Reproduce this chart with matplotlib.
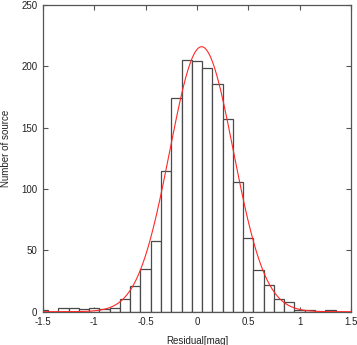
import numpy as np
import matplotlib
matplotlib.use("Agg")
from matplotlib import pyplot as plt

# histogram of residuals (bin centres and counts)
bin_centers = [-1.5, -1.4, -1.3, -1.2, -1.1, -1.0, -0.9, -0.8, -0.7, -0.6,
               -0.5, -0.4, -0.3, -0.2, -0.1, 0.0, 0.1, 0.2, 0.3, 0.4,
               0.5, 0.6, 0.7, 0.8, 0.9, 1.0, 1.1, 1.2, 1.3, 1.4]
counts = [1, 0, 3, 3, 2, 3, 2, 3, 10, 21,
          35, 58, 115, 174, 205, 204, 199, 186, 157, 106,
          60, 34, 22, 10, 8, 1, 1, 0, 1, 0]
bin_width = 0.1

# gaussian fit parameters
fit_amp = 216.0
fit_mu = 0.045
fit_sigma = 0.31

x_ticks = [-1.5, -1, -0.5, 0, 0.5, 1, 1.5]
x_ticklabels = ["-1.5", "-1", "-0.5", "0", "0.5", "1", "1.5"]
y_ticks = [0, 50, 100, 150, 200, 250]

plt.rcParams['font.family'] = ['Liberation Sans', 'DejaVu Sans']

fig = plt.figure(figsize=(3.57, 3.45), dpi=100)
ax = fig.add_axes([0.1204, 0.0965, 0.8626, 0.889])

ax.bar(bin_centers, counts, width=bin_width, facecolor='white',
       edgecolor='#4a4a4a', linewidth=0.9, zorder=2)

xs = np.linspace(-1.5, 1.5, 400)
ax.plot(xs, fit_amp * np.exp(-(xs - fit_mu) ** 2 / (2 * fit_sigma ** 2)),
        color='#ff2828', linewidth=0.8, zorder=3)

ax.set_xlim(-1.5, 1.5)
ax.set_ylim(0, 250)
ax.set_xticks(x_ticks)
ax.set_xticklabels(x_ticklabels)
ax.set_yticks(y_ticks)
ax.tick_params(direction='in', top=True, right=True, length=3.5,
               width=0.8, color='#555555', labelsize=7, labelcolor='#222222', pad=4)

for s in ax.spines.values():
    s.set_color('#555555')
    s.set_linewidth(0.9)

ax.set_xlabel("Residual[mag]", fontsize=7, color='#222222', labelpad=6)
ax.set_ylabel("Number of source", fontsize=7, color='#222222')
ax.yaxis.set_label_coords(-0.104, 0.531)

fig.savefig("out.png", dpi=100)
